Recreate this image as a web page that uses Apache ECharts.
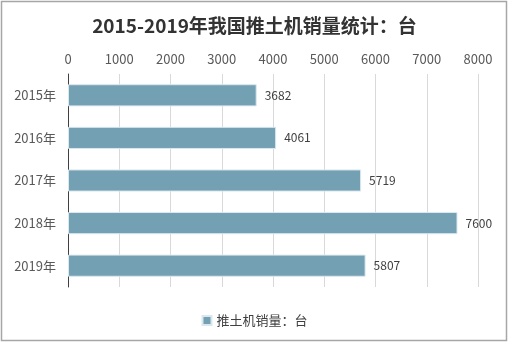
<!DOCTYPE html>
<html><head><meta charset="utf-8">
<script src="https://cdn.jsdelivr.net/npm/echarts@6/dist/echarts.min.js"></script>
<style>html,body{margin:0;padding:0;background:#fff}#c{width:509px;height:343px}</style>
</head><body><div id="c"></div>
<script>
const categories = ['2015年','2016年','2017年','2018年','2019年'];
const values = [3682, 4061, 5719, 7600, 5807];
const seriesName = '推土机销量：台';
const titleText = '2015-2019年我国推土机销量统计：台';

const chart = echarts.init(document.getElementById('c'), null, {renderer:'canvas'});
chart.setOption({
  animation:false,
  backgroundColor:'#fff',
  graphic:[{type:'rect',shape:{x:1.5,y:1.5,width:505,height:339},style:{fill:'none',stroke:'#a6a6a6',lineWidth:1.5}}],
  title:{text:titleText,left:'center',top:11,textStyle:{fontFamily:'Noto Sans CJK SC',fontSize:19,fontWeight:'bold',color:'#333'}},
  legend:{bottom:11,left:'center',itemWidth:9,itemHeight:9,itemGap:4,icon:'rect',textStyle:{fontFamily:'Noto Sans CJK SC',fontSize:13,color:'#404040'}},
  grid:{left:68,right:31,top:74,bottom:56,containLabel:false},
  xAxis:{type:'value',position:'top',min:0,max:8000,interval:1000,
    axisLine:{show:false},axisTick:{show:false},
    axisLabel:{fontFamily:'Noto Sans CJK SC',fontSize:13,color:'#595959',margin:8,formatter:v=>String(v)},
    splitLine:{lineStyle:{color:'#d9d9d9',width:1}}},
  yAxis:{type:'category',data:categories,inverse:true,
    axisLine:{lineStyle:{color:'#404040',width:1}},axisTick:{show:false},
    axisLabel:{fontFamily:'Noto Sans CJK SC',fontSize:13,color:'#595959',margin:12}},
  series:[{name:seriesName,type:'bar',data:values,barCategoryGap:'48%',
    itemStyle:{color:'#74a0b4',borderColor:'#dbe7ee',borderWidth:1},
    label:{show:true,position:'right',distance:8,fontFamily:'Noto Sans CJK SC',fontSize:12,color:'#404040'}}]
});
</script></body></html>
